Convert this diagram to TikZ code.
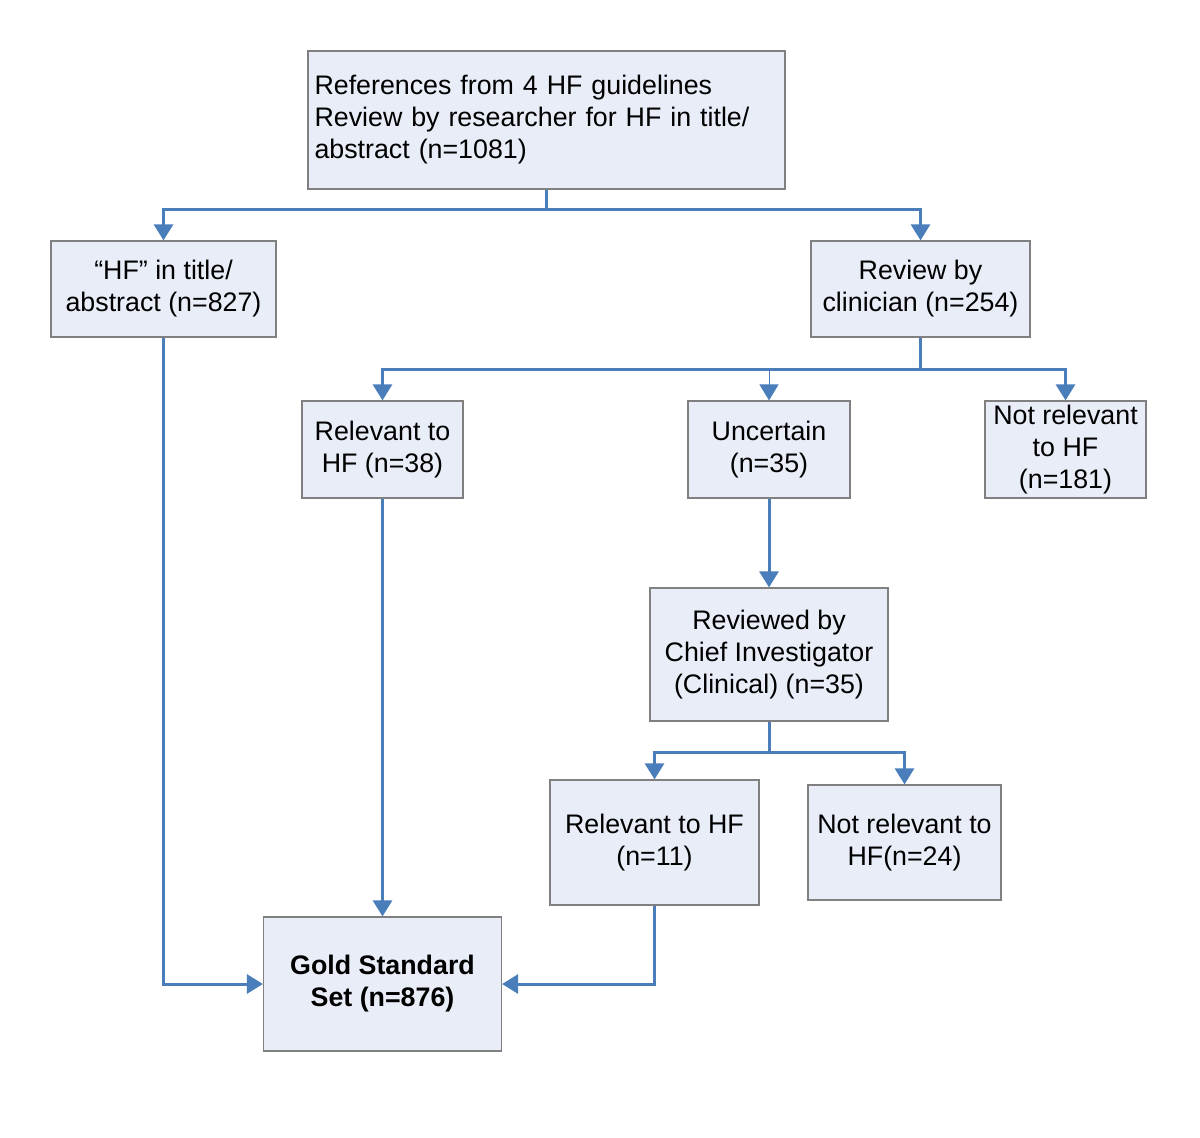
\documentclass[tikz,border=0pt]{standalone}
\usepackage{fontspec}
\setmainfont{Liberation Sans}
\usetikzlibrary{arrows.meta}
\definecolor{lineblue}{HTML}{4A7EBB}
\definecolor{boxfill}{HTML}{E8EDF7}
\definecolor{boxline}{HTML}{808080}
\begin{document}
\begin{tikzpicture}[x=0.5pt,y=-0.5pt,
  box/.style={draw=boxline,fill=boxfill,line width=0.6pt,align=center,inner sep=2pt,
    font=\fontsize{13.4}{16}\selectfont},
  conn/.style={draw=lineblue,line width=1.5pt},
  arr/.style={conn,-{Triangle[width=9.5pt,length=8pt]}},
  thinarr/.style={draw=lineblue,line width=0.5pt,-{Triangle[width=9.5pt,length=8pt]}}]
\useasboundingbox (0,0) rectangle (1200,1137);
\node[box,minimum width=238.5pt,minimum height=69pt,text width=232pt,align=left] (top) at (546.5,120)
  {References from 4 HF guidelines\\Review by researcher for HF in title/\\abstract (n=1081)};
\node[box,minimum width=112.5pt,minimum height=48pt] (hf) at (163.5,289) {“HF” in title/\\abstract (n=827)};
\node[box,minimum width=109.5pt,minimum height=48pt] (rev) at (920.5,289) {Review by\\clinician (n=254)};
\node[box,minimum width=80.5pt,minimum height=48.5pt] (rel) at (382.5,449.5) {Relevant to\\HF (n=38)};
\node[box,minimum width=81pt,minimum height=48.5pt] (unc) at (769,449.5) {Uncertain\\(n=35)};
\node[box,minimum width=80.5pt,minimum height=48.5pt] (notrel) at (1065.5,449.5) {Not relevant\\to HF\\(n=181)};
\node[box,minimum width=119pt,minimum height=66.5pt] (chief) at (769,654.5) {Reviewed by\\Chief Investigator\\(Clinical) (n=35)};
\node[box,minimum width=104.5pt,minimum height=62.5pt] (rel2) at (654.5,842.5) {Relevant to HF\\(n=11)};
\node[box,minimum width=96.5pt,minimum height=57.5pt] (notrel2) at (904.5,842.5) {Not relevant to\\HF(n=24)};
\node[box,minimum width=119pt,minimum height=67pt,font=\fontsize{13.4}{16}\selectfont\bfseries] (gold) at (382.5,984) {Gold Standard\\Set (n=876)};
% top split
\coordinate (j1) at (546.5,209);
\draw[conn] (top.south) -- (j1);
\draw[arr] (j1) -| (hf.north);
\draw[arr] (j1) -| (rev.north);
% clinician split
\coordinate (j2) at (920.5,369);
\draw[conn] (rev.south) -- (j2);
\draw[arr] (j2) -| (rel.north);
\draw[arr] (j2) -| (notrel.north);
\coordinate (j2u) at (769,369);
\draw[thinarr] (j2u) -- (unc.north);
% uncertain to chief
\draw[arr] (unc.south) -- (chief.north);
% chief split
\coordinate (j3) at (769,752);
\draw[conn] (chief.south) -- (j3);
\draw[arr] (j3) -| (rel2.north);
\draw[arr] (j3) -| (notrel2.north);
% to gold
\draw[arr] (hf.south) |- (gold.west);
\draw[arr] (rel.south) -- (gold.north);
\draw[arr] (rel2.south) |- (gold.east);
\end{tikzpicture}
\end{document}
